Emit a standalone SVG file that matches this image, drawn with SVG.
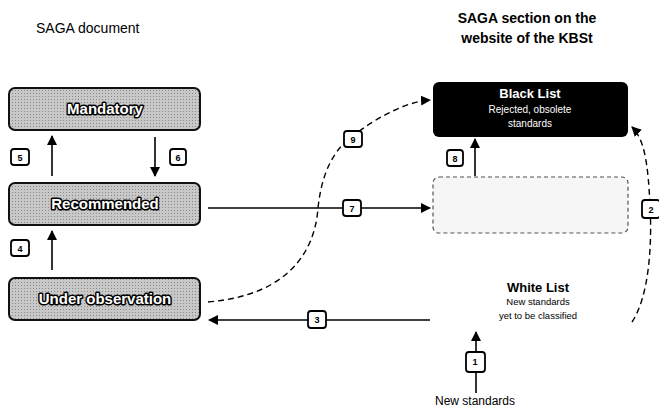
<svg xmlns="http://www.w3.org/2000/svg" width="659" height="409" viewBox="0 0 659 409">
<style>
.t{font-family:"Liberation Sans",Arial,sans-serif;fill:#000}
.box{stroke:#111;stroke-width:2;fill:url(#ht)}
.bl{font-family:"Liberation Sans",Arial,sans-serif;font-weight:bold;font-size:15px;fill:#fff;stroke:#000;stroke-width:3;paint-order:stroke;stroke-linejoin:round}
.ln{fill:none;stroke:#000;stroke-width:1.6}
.dl{fill:none;stroke:#000;stroke-width:1.4;stroke-dasharray:6 4}
.num{fill:#fff;stroke:#000;stroke-width:1.8}
.nt{font-family:"Liberation Sans",Arial,sans-serif;font-size:9px;font-weight:bold;fill:#000;text-anchor:middle}
</style>
<defs>
<pattern id="ht" width="3" height="3" patternUnits="userSpaceOnUse">
<rect width="3" height="3" fill="#c8c8c8"/>
<rect width="1" height="1" fill="#8a8a8a"/>
</pattern>
<marker id="ah" viewBox="0 0 10 10" refX="9" refY="5" markerWidth="10" markerHeight="10" markerUnits="userSpaceOnUse" orient="auto">
<path d="M0,0 L10,5 L0,10 z" fill="#000"/>
</marker>
</defs>

<text class="t" x="36" y="33" font-size="14">SAGA document</text>
<text class="t" x="527" y="23" font-size="14" font-weight="bold" text-anchor="middle">SAGA section on the</text>
<text class="t" x="527" y="43" font-size="14" font-weight="bold" text-anchor="middle">website of the KBSt</text>

<g id="mandatory">
<rect class="box" x="9" y="88" width="191" height="42" rx="6"/>
<text class="bl" x="105" y="114" text-anchor="middle">Mandatory</text>
</g>
<g id="recommended">
<rect class="box" x="9" y="183" width="191" height="42" rx="6"/>
<text class="bl" x="105" y="209" text-anchor="middle">Recommended</text>
</g>
<g id="under-observation">
<rect class="box" x="9" y="278" width="191" height="42" rx="6"/>
<text class="bl" x="105" y="304" text-anchor="middle">Under observation</text>
</g>
<g id="black-list">
<rect x="433" y="82" width="195" height="55" rx="6" fill="#000"/>
<text class="t" x="530" y="98" font-size="13" font-weight="bold" text-anchor="middle" style="fill:#fff">Black List</text>
<text class="t" x="530" y="113" font-size="10" text-anchor="middle" style="fill:#fff">Rejected, obsolete</text>
<text class="t" x="530" y="127" font-size="10" text-anchor="middle" style="fill:#fff">standards</text>
</g>
<g id="grey-list">
<rect x="433" y="177" width="195" height="56" rx="6" fill="#f6f6f6" stroke="#555" stroke-width="1.2" stroke-dasharray="4 3"/>
</g>
<g id="white-list">
<text class="t" x="538" y="292" font-size="13" font-weight="bold" text-anchor="middle">White List</text>
<text class="t" x="538" y="305" font-size="9.5" text-anchor="middle">New standards</text>
<text class="t" x="538" y="319" font-size="9.5" text-anchor="middle">yet to be classified</text>
</g>
<g id="new-standards">
<text class="t" x="475" y="405" font-size="12" text-anchor="middle">New standards</text>
</g>

<g id="connectors">
<line class="ln" x1="52" y1="176" x2="52" y2="136" marker-end="url(#ah)"/>
<line class="ln" x1="155" y1="137" x2="155" y2="176" marker-end="url(#ah)"/>
<line class="ln" x1="52" y1="270" x2="52" y2="231" marker-end="url(#ah)"/>
<line class="ln" x1="208" y1="208" x2="430" y2="208" marker-end="url(#ah)"/>
<line class="ln" x1="430" y1="320" x2="209" y2="320" marker-end="url(#ah)"/>
<line class="ln" x1="475" y1="176" x2="475" y2="139" marker-end="url(#ah)"/>
<line class="ln" x1="476" y1="393" x2="476" y2="332" marker-end="url(#ah)"/>
<path class="dl" d="M208,302 C290,295 315,250 318,208 C322,170 335,150 350,138 C365,126 400,102 430,100" marker-end="url(#ah)"/>
<path class="dl" d="M632,322 C650,295 652,240 650,205 C648,165 645,140 632,127" marker-end="url(#ah)"/>

<rect class="num" x="344" y="131" width="18" height="16" rx="3"/><text class="nt" x="353" y="143">9</text>
<rect class="num" x="343" y="200" width="18" height="16" rx="3"/><text class="nt" x="352" y="212">7</text>
<rect class="num" x="308" y="311" width="18" height="17" rx="3"/><text class="nt" x="317" y="323">3</text>
<rect class="num" x="11" y="149" width="18" height="16" rx="3"/><text class="nt" x="20" y="161">5</text>
<rect class="num" x="170" y="149" width="16" height="16" rx="3"/><text class="nt" x="178" y="161">6</text>
<rect class="num" x="11" y="240" width="18" height="16" rx="3"/><text class="nt" x="20" y="252">4</text>
<rect class="num" x="447" y="150" width="16" height="16" rx="3"/><text class="nt" x="455" y="162">8</text>
<rect class="num" x="642" y="200" width="18" height="18" rx="3"/><text class="nt" x="651" y="213">2</text>
<rect class="num" x="466" y="352" width="19" height="20" rx="3"/><text class="nt" x="475" y="365">1</text>
</g>
</svg>
